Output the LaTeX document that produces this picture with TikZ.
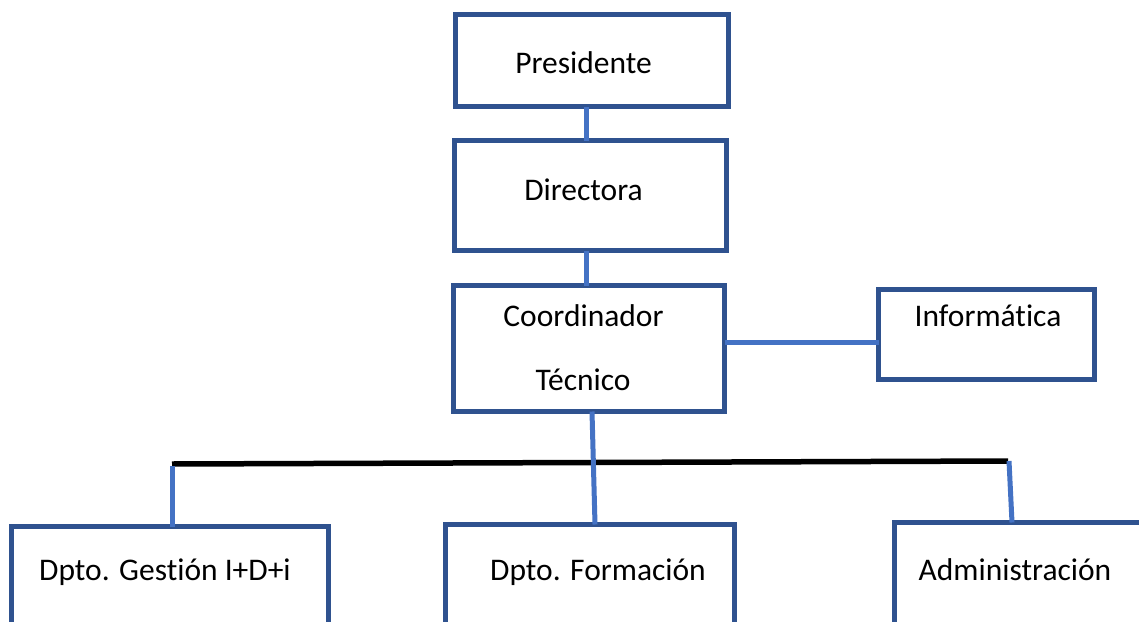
\documentclass[tikz,border=0pt]{standalone}
\usepackage{fontspec}
\setmainfont{Carlito}[RawFeature={-liga;-calt;-dlig}]
\definecolor{boxblue}{HTML}{2F528F}
\definecolor{linkblue}{HTML}{4472C4}
\begin{document}
\begin{tikzpicture}[x=1pt,y=-1pt,
  box/.style={draw=boxblue, line width=5pt, fill=white, inner sep=0pt, outer sep=0pt},
  conn/.style={draw=linkblue, line width=5pt},
  bar/.style={draw=black, line width=5.5pt},
  txt/.style={anchor=base, inner sep=0pt, font=\fontsize{31.5}{38}\selectfont}]
\useasboundingbox[fill=white] (0,0) rectangle (1139,621);
\clip (0,0) rectangle (1139,621);
% boxes
\node[box, minimum width=273pt, minimum height=92pt] (pres) at (592,60.5) {};
\node[box, minimum width=272pt, minimum height=110pt] (dir) at (590.5,195.5) {};
\node[box, minimum width=271pt, minimum height=126pt] (coord) at (589,348.5) {};
\node[box, minimum width=216pt, minimum height=90pt] (info) at (986.5,334.5) {};
\node[box, minimum width=317pt, minimum height=173.5pt] (gest) at (170,613.25) {};
\node[box, minimum width=289pt, minimum height=175.5pt] (form) at (590,612.25) {};
\node[box, minimum width=290pt, minimum height=177.5pt] (admin) at (1039.5,611.25) {};
% texts
\node[txt] (tpres) at (583.5,73) {Presidente};
\node[txt] (tdir) at (583.5,200) {Directora};
\node[txt] (tcoord1) at (583.5,326) {Coordinador};
\node[txt] (tcoord2) at (583,390) {Técnico};
\node[txt] (tinfo) at (988,326) {Informática};
\node[txt] (tgest) at (165,580) {Dpto. Gestión I+D+i};
\node[txt] (tform) at (598,580) {Dpto. Formación};
\node[txt] (tadmin) at (1015,580) {Administración};
% horizontal bar
\coordinate (barL) at (172,464);
\coordinate (barR) at (1008,461);
\draw[bar] (barL) -- (barR);
% connectors
\draw[conn] (pres.south -| 586,0) -- (dir.north -| 586,0);
\draw[conn] (dir.south -| 586,0) -- (coord.north -| 586,0);
\draw[conn] (coord.east |- 0,342) -- (info.west |- 0,342);
\draw[conn] (coord.south -| 592,0) -- (form.north -| 595,0);
\draw[conn] (172,466) -- (gest.north -| barL);
\draw[conn] (1009,461) -- (admin.north -| 1012,0);
\end{tikzpicture}
\end{document}
